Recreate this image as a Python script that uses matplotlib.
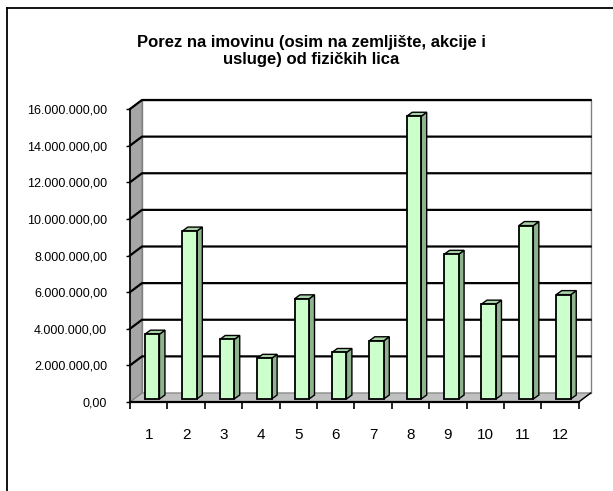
import matplotlib
matplotlib.use("Agg")
import matplotlib.pyplot as plt
from matplotlib.patches import Polygon
from matplotlib.lines import Line2D
import numpy as np

plt.rcParams['font.family'] = ['Liberation Sans', 'DejaVu Sans']

categories = ['1', '2', '3', '4', '5', '6', '7', '8', '9', '10', '11', '12']
values = [3540000, 9170000, 3250000, 2220000, 5470000, 2540000,
          3180000, 15440000, 7900000, 5180000, 9470000, 5700000]
yticks = [0, 2e6, 4e6, 6e6, 8e6, 10e6, 12e6, 14e6, 16e6]
ytick_labels = ['0,00', '2.000.000,00', '4.000.000,00', '6.000.000,00',
                '8.000.000,00', '10.000.000,00', '12.000.000,00',
                '14.000.000,00', '16.000.000,00']
title = 'Porez na imovinu (osim na zemljište, akcije i\nusluge) od fizičkih lica'

W, H = 613, 491
fig = plt.figure(figsize=(W / 100, H / 100), dpi=100)
ax_l, ax_b, ax_w, ax_h = 130, 89, 448.7, 293
ax = fig.add_axes([ax_l / W, ax_b / H, ax_w / W, ax_h / H])
ymax = 16e6
ax.set_xlim(0.5, 12.5)
ax.set_ylim(0, ymax)
for s in ax.spines.values():
    s.set_visible(False)
ax.patch.set_visible(False)

px_x = 12 / ax_w        # data units per px (x)
px_y = ymax / ax_h      # data units per px (y)
DX, DY = 12 * px_x, 9 * px_y

# back wall
ax.add_patch(Polygon([(0.5 + DX, DY), (12.5 + DX, DY), (12.5 + DX, ymax + DY),
                      (0.5 + DX, ymax + DY)], closed=True, facecolor='white',
                     edgecolor='#808080', lw=1.0, clip_on=False, zorder=1))
# left wall
ax.add_patch(Polygon([(0.5, 0), (0.5 + DX, DY), (0.5 + DX, ymax + DY), (0.5, ymax)],
                     closed=True, facecolor='#a6a6a6', edgecolor='#808080', lw=0.8,
                     clip_on=False, zorder=1))
# floor
ax.add_patch(Polygon([(0.5, 0), (12.5, 0), (12.5 + DX, DY), (0.5 + DX, DY)],
                     closed=True, facecolor='#c0c0c0', edgecolor='#808080', lw=0.8,
                     clip_on=False, zorder=1))
# gridlines
for v in yticks[1:]:
    ax.plot([0.5, 0.5 + DX, 12.5 + DX], [v, v + DY, v + DY], color='black',
            lw=1.6, clip_on=False, zorder=2, solid_joinstyle='round')

# axis lines
ax.plot([0.5, 0.5], [0, ymax], color='black', lw=1.2, clip_on=False, zorder=6)
ax.plot([0.5, 12.5], [0, 0], color='black', lw=1.6, clip_on=False, zorder=6)
ax.plot([12.5, 12.5 + DX], [0, DY], color='black', lw=1.0, clip_on=False, zorder=6)

# bars
x = np.arange(1, 13)
bw = 14.5 / (ax_w / 12)
bx, by = 3.5 * px_x, 3 * px_y
sdx, sdy = 5.5 * px_x, 4 * px_y
ax.bar(x + bx, values, width=bw, bottom=by, color='#ccffcc', edgecolor='black',
       lw=1.3, zorder=4)
for xi, v in zip(x, values):
    l = xi + bx - bw / 2
    r = xi + bx + bw / 2
    t = by + v
    ax.add_patch(Polygon([(r, by), (r + sdx, by + sdy), (r + sdx, t + sdy), (r, t)],
                         closed=True, facecolor='#8fb38f', edgecolor='black', lw=1.0,
                         zorder=3, clip_on=False))
    ax.add_patch(Polygon([(l, t), (r, t), (r + sdx, t + sdy), (l + sdx, t + sdy)],
                         closed=True, facecolor='#a9d4a9', edgecolor='black', lw=1.0,
                         zorder=3, clip_on=False))

# ticks
ax.set_yticks(yticks)
ax.set_yticklabels(ytick_labels)
ax.tick_params(axis='y', length=3, width=1, pad=13.5, labelsize=9, direction='out')
ax.set_xticks(np.arange(0.5, 13, 1))
ax.set_xticklabels([])
ax.tick_params(axis='x', which='major', length=5, width=1.2, direction='out')
ax.set_xticks(x, minor=True)
ax.set_xticklabels(categories, minor=True)
ax.tick_params(axis='x', which='minor', length=0, pad=19, labelsize=11)

fig.text(311 / W, 1 - 51 / H, title, ha='center', va='center', fontsize=12,
         fontweight='bold', linespacing=1.2)

# chart border
fig.add_artist(Line2D([6.5 / W, 6.5 / W], [0, 1 - 8 / H], color='black', lw=1.3,
                      transform=fig.transFigure))
fig.add_artist(Line2D([6.5 / W, 1], [1 - 8 / H, 1 - 8 / H], color='black', lw=1.3,
                      transform=fig.transFigure))

fig.savefig('out.png', dpi=100)
